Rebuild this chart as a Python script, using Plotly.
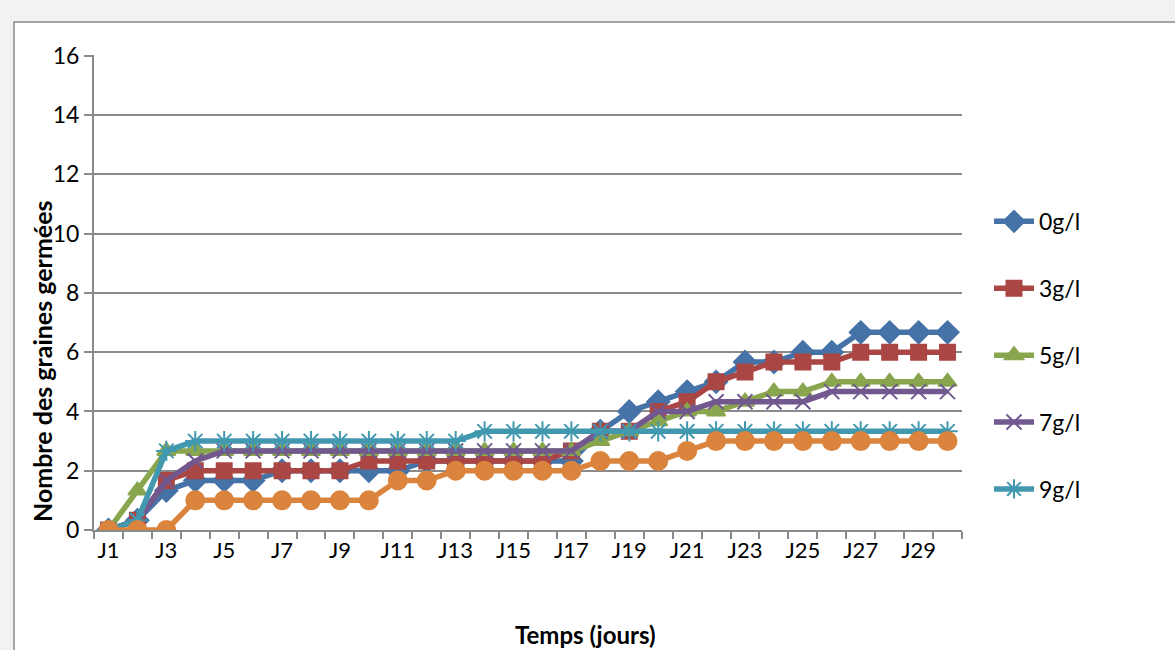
import plotly.graph_objects as go

days = [f"J{i}" for i in range(1, 31)]

s0 = [0, 0.33, 1.33, 1.67, 1.67, 1.67, 2, 2, 2, 2, 2, 2.33, 2.33, 2.33, 2.33, 2.33, 2.33, 3.33, 4, 4.33,
      4.67, 5, 5.67, 5.67, 6, 6, 6.67, 6.67, 6.67, 6.67]
s3 = [0, 0.33, 1.67, 2, 2, 2, 2, 2, 2, 2.33, 2.33, 2.33, 2.33, 2.33, 2.33, 2.33, 2.67, 3.33, 3.33, 4,
      4.33, 5, 5.33, 5.67, 5.67, 5.67, 6, 6, 6, 6]
s5 = [0, 1.33, 2.67, 2.67, 2.67, 2.67, 2.67, 2.67, 2.67, 2.67, 2.67, 2.67, 2.67, 2.67, 2.67, 2.67, 2.67, 3, 3.33, 3.67,
      4, 4, 4.33, 4.67, 4.67, 5, 5, 5, 5, 5]
s7 = [0, 0.33, 1.67, 2.33, 2.67, 2.67, 2.67, 2.67, 2.67, 2.67, 2.67, 2.67, 2.67, 2.67, 2.67, 2.67, 2.67, 3.33, 3.33, 4,
      4, 4.33, 4.33, 4.33, 4.33, 4.67, 4.67, 4.67, 4.67, 4.67]
s9 = [0, 0.33, 2.67, 3, 3, 3, 3, 3, 3, 3, 3, 3, 3, 3.33, 3.33, 3.33, 3.33, 3.33, 3.33, 3.33,
      3.33, 3.33, 3.33, 3.33, 3.33, 3.33, 3.33, 3.33, 3.33, 3.33]
s_or = [0, 0, 0, 1, 1, 1, 1, 1, 1, 1, 1.67, 1.67, 2, 2, 2, 2, 2, 2.33, 2.33, 2.33,
        2.67, 3, 3, 3, 3, 3, 3, 3, 3, 3]

series_names = ["0g/l", "3g/l", "5g/l", "7g/l", "9g/l", "11g/l"]
y_ticks = [0, 2, 4, 6, 8, 10, 12, 14, 16]
x_tick_labels = days[::2]

colors = ["#4572A7", "#AA4643", "#89A54E", "#71588F", "#4198AF", "#DB843D"]
symbols = ["diamond", "square", "triangle-up", "x-thin-open", "asterisk-open", "circle"]
msizes = [17, 15, 16, 15, 17, 18]
data = [s0, s3, s5, s7, s9, s_or]

xpos = list(range(len(days)))

fig = go.Figure()
for i, (name, vals) in enumerate(zip(series_names, data)):
    fig.add_trace(go.Scatter(
        x=xpos, y=vals, name=name, mode="lines+markers",
        line=dict(color=colors[i], width=5.5),
        marker=dict(symbol=symbols[i], size=msizes[i], color=colors[i],
                    line=dict(color=colors[i], width=2)),
        showlegend=(i < 5), legendgroup=name,
    ))

FONT = "Lato"
fig.update_layout(
    width=1175, height=650,
    paper_bgcolor="#f2f2f2", plot_bgcolor="white",
    margin=dict(l=94, r=213, t=55, b=120),
    font=dict(family=FONT, color="black"),
    legend=dict(x=(989 - 94) / 868, y=0.695, xanchor="left", yanchor="top",
                font=dict(size=23, family=FONT), traceorder="grouped",
                tracegroupgap=34, bgcolor="rgba(0,0,0,0)", itemwidth=40),
    shapes=[dict(type="rect", xref="paper", yref="paper",
                 x0=(14 - 94) / 868, x1=(1190 - 94) / 868,
                 y0=(530 - 670) / 475, y1=(530 - 22) / 475,
                 fillcolor="white", line=dict(color="#8a8a8a", width=1.5), layer="below")],
    annotations=[
        dict(text="<b>Nombre des graines germées</b>", textangle=-90, xref="paper", yref="paper",
             x=(42 - 94) / 868, y=(530 - 361) / 475, showarrow=False,
             font=dict(size=25, family=FONT), xanchor="center", yanchor="middle"),
        dict(text="<b>Temps (jours)</b>", xref="paper", yref="paper",
             x=(585 - 94) / 868, y=(530 - 634) / 475, showarrow=False,
             font=dict(size=24, family=FONT), xanchor="center", yanchor="middle"),
    ],
)
fig.update_xaxes(
    range=[-0.5, len(days) - 0.5], tickmode="array", tickvals=xpos[::2], ticktext=x_tick_labels,
    ticks="", showgrid=False, showline=True, linecolor="#8a8a8a", linewidth=2,
    tickfont=dict(size=22), zeroline=False,
    minor=dict(ticks="outside", tick0=-0.5, dtick=1, ticklen=7, tickcolor="#8a8a8a", tickwidth=2, showgrid=False),
)
fig.update_yaxes(
    range=[0, 16.03], tickmode="array", tickvals=y_ticks, ticks="outside", ticklen=8,
    tickcolor="#8a8a8a", tickwidth=2, showgrid=True, gridcolor="#8a8a8a", gridwidth=2,
    showline=True, linecolor="#8a8a8a", linewidth=2, tickfont=dict(size=23), zeroline=False,
)
fig.write_html("out.html")
